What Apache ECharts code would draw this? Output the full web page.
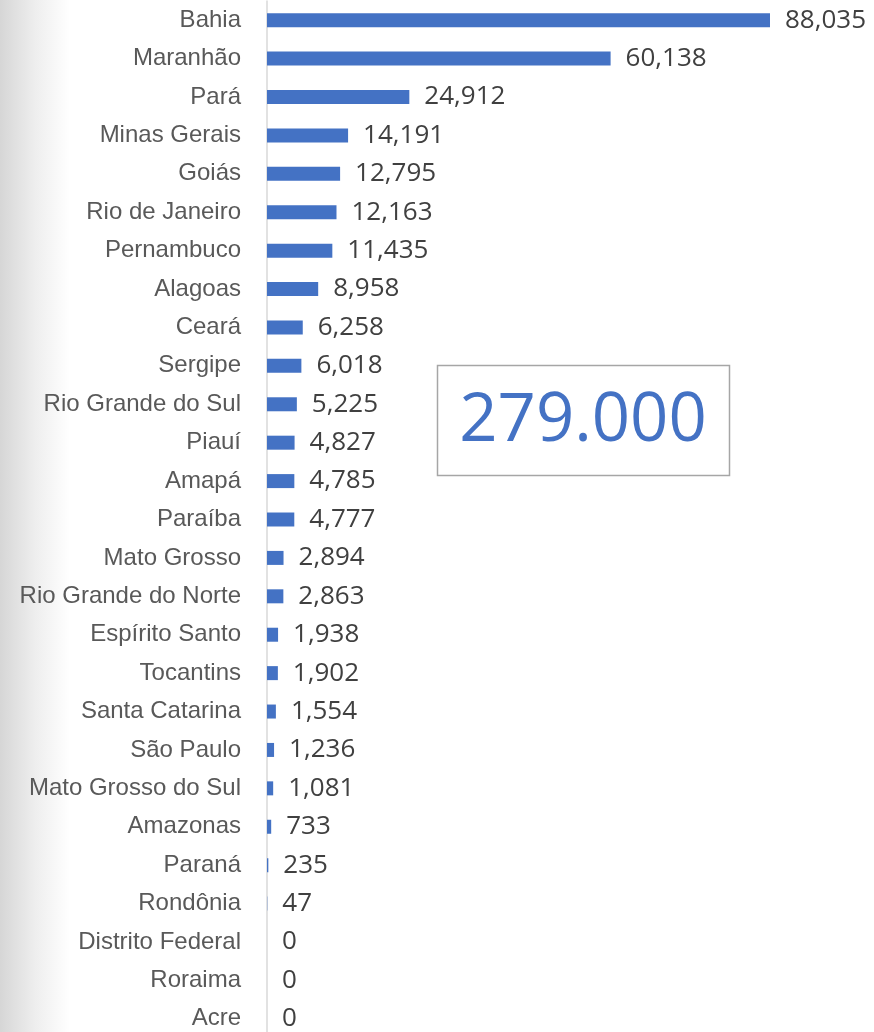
<!DOCTYPE html>
<html>
<head>
<meta charset="utf-8">
<script src="https://cdn.jsdelivr.net/npm/echarts@6/dist/echarts.min.js"></script>
<style>
  html, body { margin: 0; padding: 0; background: #fff; }
  #chart { width: 874px; height: 1032px; }
</style>
</head>
<body>
<div id="chart"></div>
<script>
const states = [
  'Bahia', 'Maranhão', 'Pará', 'Minas Gerais', 'Goiás', 'Rio de Janeiro',
  'Pernambuco', 'Alagoas', 'Ceará', 'Sergipe', 'Rio Grande do Sul', 'Piauí',
  'Amapá', 'Paraíba', 'Mato Grosso', 'Rio Grande do Norte', 'Espírito Santo',
  'Tocantins', 'Santa Catarina', 'São Paulo', 'Mato Grosso do Sul', 'Amazonas',
  'Paraná', 'Rondônia', 'Distrito Federal', 'Roraima', 'Acre'
];
const values = [
  88035, 60138, 24912, 14191, 12795, 12163,
  11435, 8958, 6258, 6018, 5225, 4827,
  4785, 4777, 2894, 2863, 1938,
  1902, 1554, 1236, 1081, 733,
  235, 47, 0, 0, 0
];
const totalLabel = '279.000';

const chart = echarts.init(document.getElementById('chart'));

const option = {
  animation: false,
  backgroundColor: '#ffffff',
  grid: {
    left: 267,
    right: 104,
    top: 1,
    height: 1037,
    outerBoundsMode: 'none'
  },
  xAxis: {
    type: 'value',
    min: 0,
    max: 'dataMax',
    show: false
  },
  yAxis: {
    type: 'category',
    inverse: true,
    data: states,
    axisTick: { show: false },
    axisLine: { lineStyle: { color: '#d9d9d9', width: 1.5 } },
    axisLabel: {
      margin: 26,
      fontFamily: '"Liberation Sans", Arial, sans-serif',
      fontSize: 24,
      color: '#595959'
    }
  },
  series: [{
    type: 'bar',
    data: values,
    barWidth: 14,
    itemStyle: { color: '#4472c4' },
    label: {
      show: true,
      position: 'right',
      distance: 15,
      fontFamily: '"Open Sans", sans-serif',
      fontSize: 26,
      color: '#404040',
      formatter: (p) => p.value.toLocaleString('en-US')
    }
  }],
  graphic: [
    {
      type: 'rect',
      z: -10,
      silent: true,
      shape: { x: 0, y: 0, width: 70, height: 1032 },
      style: {
        fill: new echarts.graphic.LinearGradient(0, 0, 1, 0, [
          { offset: 0, color: '#d6d6d6' },
          { offset: 0.5, color: '#eeeeee' },
          { offset: 1, color: '#ffffff' }
        ])
      }
    },
    {
      type: 'rect',
      z: 10,
      shape: { x: 437.5, y: 365.5, width: 292, height: 110 },
      style: { fill: '#ffffff', stroke: '#a6a6a6', lineWidth: 1.5 }
    },
    {
      type: 'text',
      z: 11,
      x: 583,
      y: 422,
      style: {
        text: totalLabel,
        fontFamily: '"Open Sans", sans-serif',
        fontSize: 67,
        fill: '#4472c4',
        align: 'center',
        verticalAlign: 'middle'
      }
    }
  ]
};

chart.setOption(option);
</script>
</body>
</html>
